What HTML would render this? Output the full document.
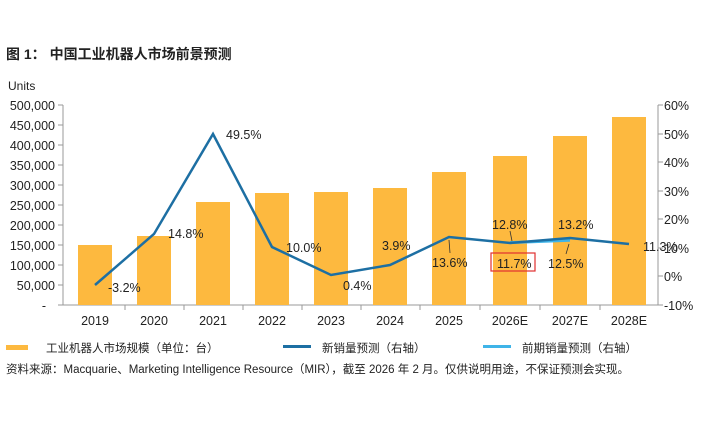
<!DOCTYPE html>
<html><head><meta charset="utf-8"><style>
body{margin:0;background:#fff;width:702px;height:421px;overflow:hidden}
text{font-family:"Liberation Sans","Noto Sans CJK SC",sans-serif;fill:#222}
</style></head><body>
<svg width="702" height="421" viewBox="0 0 702 421">
<text x="6" y="59" font-size="14" font-weight="bold">图 1：  中国工业机器人市场前景预测</text>
<text x="8" y="90" font-size="12">Units</text>
<g font-size="12.5" text-anchor="end">
<text x="55" y="110">500,000</text><text x="55" y="130">450,000</text><text x="55" y="150">400,000</text>
<text x="55" y="170">350,000</text><text x="55" y="190">300,000</text><text x="55" y="210">250,000</text>
<text x="55" y="230">200,000</text><text x="55" y="250">150,000</text><text x="55" y="270">100,000</text>
<text x="55" y="290">50,000</text><text x="46" y="310">-</text>
</g>
<g font-size="12.5">
<text x="664" y="110">60%</text><text x="664" y="139">50%</text><text x="664" y="167">40%</text>
<text x="664" y="196">30%</text><text x="664" y="224">20%</text><text x="664" y="253">10%</text>
<text x="664" y="281">0%</text><text x="664" y="310">-10%</text>
</g>
<g stroke="#999" stroke-width="1">
<line x1="63" y1="105" x2="63" y2="305"/><line x1="658" y1="105" x2="658" y2="305"/>
<line x1="63" y1="305" x2="658" y2="305"/>
<path d="M58 105h5M58 125h5M58 145h5M58 165h5M58 185h5M58 205h5M58 225h5M58 245h5M58 265h5M58 285h5M58 305h5"/>
<path d="M658 105h5M658 134h5M658 162h5M658 191h5M658 219h5M658 248h5M658 276h5M658 305h5"/>
<path d="M125 305v5M184 305v5M243 305v5M302 305v5M361 305v5M420 305v5M480 305v5M540 305v5M600 305v5"/>
</g>
<g fill="#FDB93F">
<rect x="78" y="245" width="34" height="60"/><rect x="137" y="236" width="34" height="69"/>
<rect x="196" y="202" width="34" height="103"/><rect x="255" y="193" width="34" height="112"/>
<rect x="314" y="192" width="34" height="113"/><rect x="373" y="188" width="34" height="117"/>
<rect x="432" y="172" width="34" height="133"/><rect x="493" y="156" width="34" height="149"/>
<rect x="553" y="136" width="34" height="169"/><rect x="612" y="117" width="34" height="188"/>
</g>
<g font-size="12.5" text-anchor="middle">
<text x="95" y="325">2019</text><text x="154" y="325">2020</text><text x="213" y="325">2021</text>
<text x="272" y="325">2022</text><text x="331" y="325">2023</text><text x="390" y="325">2024</text>
<text x="449" y="325">2025</text><text x="510" y="325">2026E</text><text x="570" y="325">2027E</text>
<text x="629" y="325">2028E</text>
</g>
<polyline points="510,242.6 570,240.3" fill="none" stroke="#3FB4E8" stroke-width="3"/>
<polyline points="95,285 154,234 213,134 272,247 331,275 390,265 449,237 510,243 570,238 629,244" fill="none" stroke="#1D6FA3" stroke-width="2.5"/>
<g font-size="12.5">
<text x="108" y="292">-3.2%</text><text x="168" y="238">14.8%</text><text x="226" y="139">49.5%</text>
<text x="286" y="252">10.0%</text><text x="343" y="290">0.4%</text><text x="382" y="250">3.9%</text>
<text x="432" y="267">13.6%</text><text x="497" y="268">11.7%</text><text x="492" y="229">12.8%</text>
<text x="558" y="229">13.2%</text><text x="548" y="268">12.5%</text><text x="643" y="251">11.3%</text>
</g>
<g stroke="#333" stroke-width="0.8"><line x1="449" y1="240" x2="450" y2="253"/><line x1="510" y1="231" x2="512" y2="241"/><line x1="566" y1="254" x2="569" y2="244"/></g>
<rect x="491" y="253" width="44" height="18" fill="none" stroke="#E03030" stroke-width="1.2"/>
<rect x="6" y="345" width="22" height="5" fill="#FDB93F"/>
<text x="46" y="352" font-size="11.5">工业机器人市场规模（单位：台）</text>
<rect x="283" y="345" width="28" height="3" fill="#1D6FA3"/>
<text x="322" y="352" font-size="11.5">新销量预测（右轴）</text>
<rect x="483" y="345" width="28" height="3" fill="#3FB4E8"/>
<text x="522" y="352" font-size="11.5">前期销量预测（右轴）</text>
<text x="6" y="373" font-size="11.5">资料来源：Macquarie、Marketing Intelligence Resource（MIR），截至 2026 年 2 月。仅供说明用途，不保证预测会实现。</text>
</svg>
</body></html>
